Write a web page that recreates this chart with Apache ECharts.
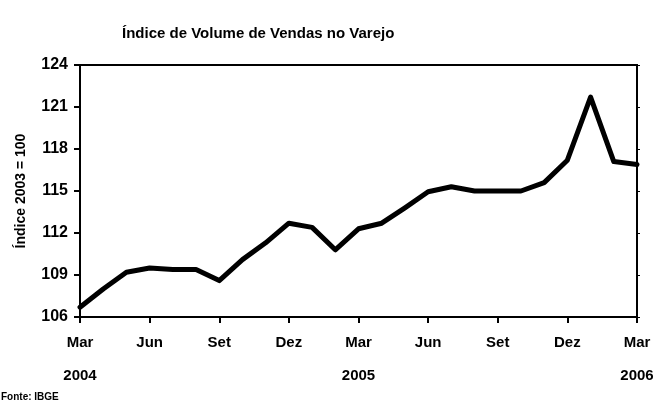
<!DOCTYPE html>
<html lang="pt">
    <head>
        <meta charset="UTF-8" />
        <title>Índice de Volume de Vendas no Varejo</title>
        <script src="https://cdn.jsdelivr.net/npm/echarts@6/dist/echarts.min.js"></script>
        <style>
            body { margin: 0; background: #fff; }
        </style>
    </head>
    <body>
        <div id="main" style="width: 661px; height: 410px"></div>

        <script>
            // Monthly data, Mar 2004 - Mar 2006
            const months = [
                "Mar", "Abr", "Mai", "Jun", "Jul", "Ago", "Set", "Out", "Nov", "Dez", "Jan", "Fev",
                "Mar", "Abr", "Mai", "Jun", "Jul", "Ago", "Set", "Out", "Nov", "Dez", "Jan", "Fev",
                "Mar"
            ];
            const years = {0: "2004", 12: "2005", 24: "2006"};
            const indexValues = [
                106.7, 108.0, 109.2, 109.5, 109.4, 109.4, 108.6, 110.1, 111.3, 112.7, 112.4, 110.8,
                112.3, 112.7, 113.8, 114.95, 115.3, 115.0, 115.0, 115.0, 115.6, 117.2, 121.7, 117.1,
                116.9
            ];
            const yTicks = [106, 109, 112, 115, 118, 121, 124];

            const font = "'Liberation Sans', Arial, sans-serif";
            const categories = months.map((m, i) => i);

            let myChart = echarts.init(document.getElementById("main"));

            let options = {
                animation: false,
                backgroundColor: "#fff",
                title: {
                    text: "Índice de Volume de Vendas no Varejo",
                    left: 117,
                    top: 21,
                    textStyle: { fontFamily: font, fontSize: 15, fontWeight: "bold", color: "#000" }
                },
                graphic: [
                    {
                        type: "text",
                        left: 1,
                        top: 392,
                        style: { text: "Fonte: IBGE", font: "bold 10px " + font, fill: "#000" }
                    }
                ],
                grid: {
                    left: 80,
                    right: 24,
                    top: 65,
                    bottom: 93,
                    show: true,
                    borderColor: "#000",
                    borderWidth: 2
                },
                xAxis: {
                    type: "category",
                    data: categories,
                    boundaryGap: false,
                    axisLine: { lineStyle: { color: "#000", width: 2 } },
                    axisTick: {
                        interval: 2,
                        length: 6,
                        lineStyle: { color: "#000", width: 2 }
                    },
                    axisLabel: {
                        interval: 2,
                        margin: 9,
                        color: "#000",
                        fontFamily: font,
                        fontSize: 15,
                        fontWeight: "bold",
                        lineHeight: 33,
                        formatter: (v) => {
                            const i = Number(v);
                            return years[i] ? months[i] + "\n" + years[i] : months[i];
                        },
                        verticalAlign: "top"
                    },
                    splitLine: { show: false }
                },
                yAxis: [
                    {
                        type: "value",
                        min: yTicks[0],
                        max: yTicks[yTicks.length - 1],
                        interval: 3,
                        name: "Índice 2003 = 100",
                        nameLocation: "middle",
                        nameGap: 52,
                        nameRotate: 90,
                        nameTextStyle: { fontFamily: font, fontSize: 14, fontWeight: "bold", color: "#000" },
                        axisLine: { show: true, lineStyle: { color: "#000", width: 2 } },
                        axisTick: { show: true, length: 6, lineStyle: { color: "#000", width: 2 } },
                        axisLabel: {
                            margin: 12,
                            color: "#000",
                            fontFamily: font,
                            fontSize: 16,
                            fontWeight: "bold"
                        },
                        splitLine: { show: false }
                    },
                    {
                        type: "value",
                        position: "right",
                        min: yTicks[0],
                        max: yTicks[yTicks.length - 1],
                        interval: 3,
                        axisLine: { show: true, lineStyle: { color: "#000", width: 2 } },
                        axisTick: { show: true, length: 3, lineStyle: { color: "#000", width: 1 } },
                        axisLabel: { show: false },
                        splitLine: { show: false }
                    }
                ],
                series: [
                    {
                        name: "Índice",
                        type: "line",
                        data: indexValues,
                        showSymbol: false,
                        lineStyle: { color: "#000", width: 5, join: "round", cap: "round" }
                    }
                ]
            };

            myChart.setOption(options);
        </script>
    </body>
</html>
